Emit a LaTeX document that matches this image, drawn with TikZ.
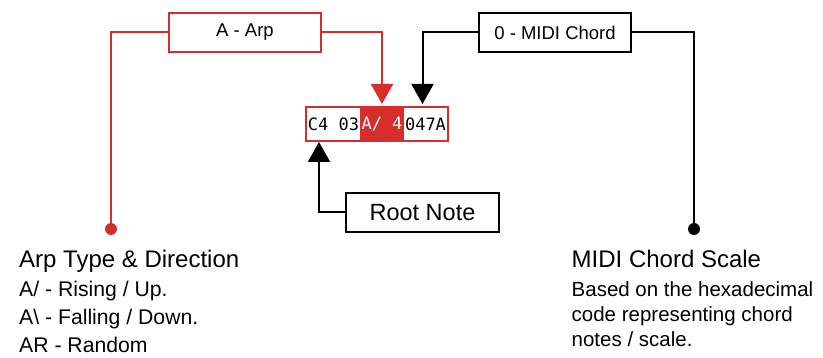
\documentclass[tikz,border=0pt]{standalone}
\usepackage{fontspec}
\setmainfont{Liberation Sans}
\newfontfamily\codefont{DejaVu Sans Mono}
\usepackage{xcolor}
\usetikzlibrary{arrows.meta, positioning, calc}
\definecolor{arpred}{RGB}{214,45,45}

\begin{document}
\begin{tikzpicture}[
    x=1pt, y=-1pt,
    cell/.style={rectangle, draw=arpred, line width=2pt, minimum height=34pt, inner sep=0pt, outer sep=0pt, font=\codefont\fontsize{17}{17}\selectfont},
    tag/.style={rectangle, draw=#1, line width=2pt, minimum width=152pt, minimum height=39pt, inner sep=0pt, font=\fontsize{18.5}{18.5}\selectfont},
    wire/.style={line width=2pt, draw=#1},
    arr/.style={-{Triangle[length=20pt, width=22pt]}, line width=2pt, draw=#1, shorten >=3pt},
    dot/.style={circle, fill=#1, minimum size=12pt, inner sep=0pt},
    title/.style={anchor=base west, inner sep=0pt, font=\fontsize{24}{24}\selectfont},
    desc/.style={anchor=base west, inner sep=0pt, align=left, font=\fontsize{21.2}{#1}\selectfont},
]
\useasboundingbox (0,0) rectangle (823,358);

% code line
\node[cell, minimum width=55pt] (c1) at (333.5,124) {C4 03};
\node[cell, minimum width=42pt, fill=arpred, text=white, right=0pt of c1] (c2) {A/ 4};
\node[cell, minimum width=45pt, right=0pt of c2] (c3) {047A};

% labels
\node[tag=arpred] (arp) at (245,32.5) {A - Arp};
\node[tag=black] (chord) at (555,32.5) {0 - MIDI Chord};
\node[tag=black, minimum width=153pt, font=\fontsize{23.5}{23.5}\selectfont] (root) at (422.5,212.5) {Root Note};

\node[dot=arpred] (arpdot) at (111,229) {};
\node[dot=black] (chorddot) at (694,229) {};

\draw[wire=arpred] (arp.west) -| (arpdot);
\draw[arr=arpred] (arp.east) -| (c2.north);
\draw[arr=black] (chord.west) -| ([xshift=-3pt]c3.north);
\draw[wire=black] (chord.east) -| (chorddot);
\draw[arr=black, shorten >=1pt] (root.west) -| ([xshift=-14.5pt]c1.south);

% descriptions (base = last line)
\node[title] (arptitle) at (19,267.3) {Arp Type \& Direction};
\node[desc=28.5] (arptext) at (19,353) {A/ - Rising / Up.\\A\textbackslash{} - Falling / Down.\\AR - Random};
\node[title] (chordtitle) at (571.5,267.3) {MIDI Chord Scale};
\node[desc=25, font=\fontsize{20.5}{25}\selectfont] (chordtext) at (571.5,346.5) {Based on the hexadecimal\\code representing chord\\notes / scale.};
\end{tikzpicture}
\end{document}
